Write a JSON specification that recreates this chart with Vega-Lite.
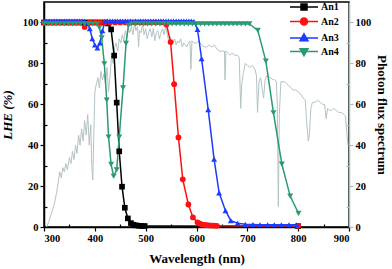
{
  "$schema": "https://vega.github.io/schema/vega-lite/v6.json",
  "width": 305,
  "height": 225,
  "autosize": "none",
  "padding": {"left": 44, "top": 2, "right": 43, "bottom": 42},
  "config": {
    "view": {"stroke": "#000000", "strokeWidth": 1.5},
    "font": "Liberation Serif",
    "axis": {
      "labelFont": "Liberation Serif",
      "labelFontWeight": "bold",
      "labelFontSize": 10.5,
      "labelColor": "#000000",
      "titleFont": "Liberation Serif",
      "titleFontWeight": "bold",
      "titleFontSize": 13,
      "titleColor": "#000000",
      "grid": false,
      "domainWidth": 1.5,
      "tickWidth": 1.2
    }
  },
  "datasets": {
    "keys": [{"k":"An1"},{"k":"An2"},{"k":"An3"},{"k":"An4"}],
    "spec": [
      {"w":305,"f":0},{"w":310,"f":3},{"w":315,"f":7},{"w":320,"f":11},{"w":325,"f":17},{"w":328,"f":22},{"w":331,"f":27},{"w":334,"f":24},{"w":337,"f":29},{"w":340,"f":27},{"w":343,"f":31},{"w":346,"f":28},{"w":350,"f":34},{"w":353,"f":31},{"w":356,"f":37},{"w":359,"f":33},{"w":362,"f":40},{"w":365,"f":36},{"w":368,"f":45},{"w":371,"f":40},{"w":374,"f":48},{"w":377,"f":42},{"w":380,"f":52},{"w":383,"f":45},{"w":386,"f":55},{"w":389,"f":40},{"w":392,"f":50},{"w":394,"f":30},{"w":396,"f":23},{"w":398,"f":45},{"w":400,"f":66},{"w":403,"f":70},{"w":406,"f":73},{"w":409,"f":68},{"w":412,"f":76},{"w":415,"f":72},{"w":418,"f":75},{"w":421,"f":70},{"w":424,"f":78},{"w":427,"f":66},{"w":430,"f":74},{"w":433,"f":84},{"w":436,"f":80},{"w":439,"f":88},{"w":442,"f":90},{"w":445,"f":86},{"w":448,"f":92},{"w":451,"f":90},{"w":454,"f":94},{"w":457,"f":91},{"w":460,"f":96},{"w":463,"f":93},{"w":466,"f":97},{"w":469,"f":95},{"w":472,"f":98},{"w":475,"f":94},{"w":478,"f":99},{"w":481,"f":96},{"w":484,"f":98},{"w":486,"f":88},{"w":488,"f":96},{"w":491,"f":95},{"w":494,"f":99},{"w":497,"f":94},{"w":500,"f":97},{"w":503,"f":92},{"w":506,"f":95},{"w":509,"f":97},{"w":512,"f":93},{"w":515,"f":97},{"w":518,"f":91},{"w":521,"f":95},{"w":524,"f":96},{"w":527,"f":92},{"w":530,"f":95},{"w":533,"f":97},{"w":536,"f":94},{"w":539,"f":98},{"w":542,"f":95},{"w":545,"f":91},{"w":548,"f":93},{"w":551,"f":89},{"w":554,"f":90},{"w":557,"f":92},{"w":560,"f":89},{"w":563,"f":91},{"w":566,"f":90},{"w":569,"f":92},{"w":572,"f":88},{"w":575,"f":90},{"w":578,"f":89},{"w":581,"f":88},{"w":584,"f":90},{"w":587,"f":91},{"w":589,"f":77},{"w":591,"f":91},{"w":595,"f":90},{"w":600,"f":90},{"w":605,"f":91},{"w":610,"f":89},{"w":615,"f":88},{"w":620,"f":88},{"w":625,"f":89},{"w":630,"f":88},{"w":635,"f":89},{"w":640,"f":87},{"w":645,"f":86},{"w":650,"f":86},{"w":655,"f":86},{"w":656,"f":72},{"w":658,"f":86},{"w":662,"f":85},{"w":666,"f":84},{"w":670,"f":85},{"w":675,"f":84},{"w":680,"f":84},{"w":684,"f":83},{"w":687,"f":58},{"w":689,"f":70},{"w":692,"f":75},{"w":696,"f":80},{"w":700,"f":79},{"w":705,"f":78},{"w":710,"f":79},{"w":715,"f":77},{"w":718,"f":74},{"w":720,"f":56},{"w":723,"f":71},{"w":726,"f":73},{"w":729,"f":68},{"w":732,"f":63},{"w":735,"f":72},{"w":738,"f":74},{"w":742,"f":73},{"w":746,"f":73},{"w":750,"f":72},{"w":754,"f":72},{"w":757,"f":71},{"w":759,"f":60},{"w":761,"f":10},{"w":763,"f":55},{"w":766,"f":71},{"w":770,"f":71},{"w":774,"f":71},{"w":778,"f":70},{"w":782,"f":69},{"w":786,"f":68},{"w":790,"f":67},{"w":795,"f":67},{"w":800,"f":66},{"w":805,"f":65},{"w":810,"f":63},{"w":814,"f":62},{"w":817,"f":50},{"w":820,"f":42},{"w":822,"f":45},{"w":825,"f":58},{"w":828,"f":61},{"w":833,"f":61},{"w":838,"f":62},{"w":843,"f":61},{"w":848,"f":60},{"w":852,"f":60},{"w":855,"f":53},{"w":858,"f":58},{"w":862,"f":57},{"w":866,"f":57},{"w":870,"f":58},{"w":875,"f":57},{"w":880,"f":56},{"w":885,"f":56},{"w":890,"f":55},{"w":893,"f":54},{"w":896,"f":45},{"w":898,"f":40}
    ],
    "lhe": [
      {"s":"An1","w":300,"v":100},{"s":"An1","w":310,"v":100},{"s":"An1","w":320,"v":100},{"s":"An1","w":330,"v":100},{"s":"An1","w":340,"v":100},{"s":"An1","w":350,"v":100},{"s":"An1","w":360,"v":100},{"s":"An1","w":370,"v":100},{"s":"An1","w":380,"v":100},{"s":"An1","w":390,"v":100},{"s":"An1","w":400,"v":100},{"s":"An1","w":410,"v":100},{"s":"An1","w":420,"v":100},{"s":"An1","w":426,"v":99.5},{"s":"An1","w":432,"v":96.6},{"s":"An1","w":438,"v":83.8},{"s":"An1","w":443,"v":60.8},{"s":"An1","w":448,"v":37},{"s":"An1","w":453.5,"v":19.7},{"s":"An1","w":459,"v":9.4},{"s":"An1","w":465,"v":4.2},{"s":"An1","w":471,"v":1.9},{"s":"An1","w":476,"v":1.1},{"s":"An1","w":481,"v":0.8},{"s":"An1","w":487,"v":0.6},{"s":"An1","w":492,"v":0.5},{"s":"An1","w":498,"v":0.5},{"s":"An1","w":800,"v":0.4},
      {"s":"An2","w":300,"v":100},{"s":"An2","w":310,"v":100},{"s":"An2","w":320,"v":100},{"s":"An2","w":330,"v":100},{"s":"An2","w":340,"v":100},{"s":"An2","w":350,"v":100},{"s":"An2","w":360,"v":100},{"s":"An2","w":370,"v":100},{"s":"An2","w":380,"v":97.8},{"s":"An2","w":390,"v":100},{"s":"An2","w":400,"v":100},{"s":"An2","w":410,"v":100},{"s":"An2","w":420,"v":100},{"s":"An2","w":430,"v":100},{"s":"An2","w":440,"v":100},{"s":"An2","w":450,"v":100},{"s":"An2","w":460,"v":100},{"s":"An2","w":470,"v":100},{"s":"An2","w":480,"v":100},{"s":"An2","w":490,"v":100},{"s":"An2","w":500,"v":100},{"s":"An2","w":510,"v":100},{"s":"An2","w":520,"v":100},{"s":"An2","w":530,"v":100},{"s":"An2","w":541,"v":99},{"s":"An2","w":549,"v":90.4},{"s":"An2","w":556,"v":69.8},{"s":"An2","w":564.5,"v":43.8},{"s":"An2","w":573,"v":23.3},{"s":"An2","w":584,"v":11},{"s":"An2","w":593,"v":4.7},{"s":"An2","w":602,"v":2.3},{"s":"An2","w":607,"v":1.6},{"s":"An2","w":611,"v":1.2},{"s":"An2","w":616,"v":1.0},{"s":"An2","w":620,"v":0.9},{"s":"An2","w":625,"v":0.8},{"s":"An2","w":630,"v":0.7},{"s":"An2","w":635,"v":0.7},{"s":"An2","w":640,"v":0.6},{"s":"An2","w":800,"v":0.5},
      {"s":"An3","w":300,"v":100.7},{"s":"An3","w":305,"v":100.7},{"s":"An3","w":310,"v":100.7},{"s":"An3","w":315,"v":100.7},{"s":"An3","w":320,"v":100.7},{"s":"An3","w":325,"v":100.7},{"s":"An3","w":330,"v":100.7},{"s":"An3","w":335,"v":100.7},{"s":"An3","w":340,"v":100.7},{"s":"An3","w":345,"v":100.7},{"s":"An3","w":350,"v":100.7},{"s":"An3","w":355,"v":100.7},{"s":"An3","w":360,"v":100.7},{"s":"An3","w":365,"v":100.7},{"s":"An3","w":370,"v":100.7},{"s":"An3","w":375,"v":100.7},{"s":"An3","w":380,"v":100.7},{"s":"An3","w":385,"v":99.5},{"s":"An3","w":390,"v":97},{"s":"An3","w":395,"v":92},{"s":"An3","w":400,"v":89},{"s":"An3","w":405,"v":87.5},{"s":"An3","w":410,"v":90},{"s":"An3","w":415,"v":96},{"s":"An3","w":420,"v":100.5},{"s":"An3","w":425,"v":100.7},{"s":"An3","w":430,"v":100.7},{"s":"An3","w":435,"v":100.7},{"s":"An3","w":440,"v":100.7},{"s":"An3","w":445,"v":100.7},{"s":"An3","w":450,"v":100.7},{"s":"An3","w":455,"v":100.7},{"s":"An3","w":460,"v":100.7},{"s":"An3","w":465,"v":100.7},{"s":"An3","w":470,"v":100.7},{"s":"An3","w":475,"v":100.7},{"s":"An3","w":480,"v":100.7},{"s":"An3","w":485,"v":100.7},{"s":"An3","w":490,"v":100.7},{"s":"An3","w":495,"v":100.7},{"s":"An3","w":500,"v":100.7},{"s":"An3","w":505,"v":100.7},{"s":"An3","w":510,"v":100.7},{"s":"An3","w":515,"v":100.7},{"s":"An3","w":520,"v":100.7},{"s":"An3","w":525,"v":100.7},{"s":"An3","w":530,"v":100.7},{"s":"An3","w":535,"v":100.7},{"s":"An3","w":540,"v":100.7},{"s":"An3","w":545,"v":100.7},{"s":"An3","w":550,"v":100.7},{"s":"An3","w":555,"v":100.7},{"s":"An3","w":560,"v":100.7},{"s":"An3","w":565,"v":100.7},{"s":"An3","w":570,"v":100.7},{"s":"An3","w":575,"v":100.7},{"s":"An3","w":580,"v":100.7},{"s":"An3","w":585,"v":100.7},{"s":"An3","w":590,"v":100.7},{"s":"An3","w":595,"v":100.5},{"s":"An3","w":602,"v":96.6},{"s":"An3","w":610,"v":82.3},{"s":"An3","w":623,"v":57.4},{"s":"An3","w":634.6,"v":33.2},{"s":"An3","w":644.5,"v":16.7},{"s":"An3","w":657,"v":8},{"s":"An3","w":667.5,"v":3.1},{"s":"An3","w":681,"v":1.8},{"s":"An3","w":696,"v":1.3},{"s":"An3","w":711,"v":1.2},{"s":"An3","w":725,"v":1.1},{"s":"An3","w":740,"v":1.1},{"s":"An3","w":753,"v":1.1},{"s":"An3","w":767,"v":1.1},{"s":"An3","w":782,"v":1.1},{"s":"An3","w":797,"v":1.1},
      {"s":"An4","w":300,"v":99.3},{"s":"An4","w":308,"v":99.3},{"s":"An4","w":316,"v":99.3},{"s":"An4","w":324,"v":99.3},{"s":"An4","w":332,"v":99.3},{"s":"An4","w":340,"v":99.3},{"s":"An4","w":348,"v":99.3},{"s":"An4","w":356,"v":99.3},{"s":"An4","w":364,"v":99.3},{"s":"An4","w":372,"v":99.3},{"s":"An4","w":380,"v":99.3},{"s":"An4","w":388,"v":99.3},{"s":"An4","w":396,"v":99.3},{"s":"An4","w":404,"v":99.3},{"s":"An4","w":409,"v":97.5},{"s":"An4","w":413.5,"v":92.5},{"s":"An4","w":418.7,"v":79.8},{"s":"An4","w":423.4,"v":62},{"s":"An4","w":427,"v":44},{"s":"An4","w":432,"v":30.6},{"s":"An4","w":437,"v":24.8},{"s":"An4","w":443,"v":28},{"s":"An4","w":448,"v":44},{"s":"An4","w":455.5,"v":68},{"s":"An4","w":461.4,"v":89.8},{"s":"An4","w":466,"v":98.5},{"s":"An4","w":472,"v":99.3},{"s":"An4","w":480,"v":99.3},{"s":"An4","w":488,"v":99.3},{"s":"An4","w":496,"v":99.3},{"s":"An4","w":504,"v":99.3},{"s":"An4","w":512,"v":99.3},{"s":"An4","w":520,"v":99.3},{"s":"An4","w":528,"v":99.3},{"s":"An4","w":536,"v":99.3},{"s":"An4","w":544,"v":99.3},{"s":"An4","w":552,"v":99.3},{"s":"An4","w":560,"v":99.3},{"s":"An4","w":568,"v":99.3},{"s":"An4","w":576,"v":99.3},{"s":"An4","w":584,"v":99.3},{"s":"An4","w":592,"v":99.3},{"s":"An4","w":600,"v":99.3},{"s":"An4","w":608,"v":99.3},{"s":"An4","w":616,"v":99.3},{"s":"An4","w":624,"v":99.3},{"s":"An4","w":632,"v":99.3},{"s":"An4","w":640,"v":99.3},{"s":"An4","w":648,"v":99.3},{"s":"An4","w":656,"v":99.3},{"s":"An4","w":664,"v":99.3},{"s":"An4","w":672,"v":99.3},{"s":"An4","w":680,"v":99.3},{"s":"An4","w":688,"v":99.3},{"s":"An4","w":696,"v":99.3},{"s":"An4","w":704,"v":99.3},{"s":"An4","w":720.6,"v":96.1},{"s":"An4","w":736.4,"v":81.1},{"s":"An4","w":751.4,"v":55.8},{"s":"An4","w":767.9,"v":30.7},{"s":"An4","w":784.3,"v":15.1},{"s":"An4","w":800.6,"v":6.7}
    ]
  },
  "encoding": {
    "x": {
      "field": "w", "type": "quantitative",
      "scale": {"domain": [300, 900], "nice": false, "zero": false},
      "axis": {
        "title": "Wavelength (nm)",
        "values": [300,350,400,450,500,550,600,650,700,750,800,850,900],
        "labelExpr": "datum.value % 100 == 0 ? datum.label : ''",
        "tickSize": {"condition": {"test": "datum.value % 100 == 0", "value": 4}, "value": -3},
        "labelPadding": 2,
        "titlePadding": 9,
        "domainColor": "#000000",
        "tickColor": "#000000"
      }
    }
  },
  "layer": [
    {
      "data": {"name": "spec"},
      "mark": {"type": "line", "color": "#b4c3c7", "strokeWidth": 1, "interpolate": "linear"},
      "encoding": {
        "y": {
          "field": "f", "type": "quantitative",
          "scale": {"domain": [0, 110], "nice": false},
          "axis": {
            "orient": "right",
            "title": "Photon flux spectrum",
            "values": [0,10,20,30,40,50,60,70,80,90,100],
            "labelExpr": "datum.value % 20 == 0 ? datum.label : ''",
            "tickSize": {"condition": {"test": "datum.value % 20 == 0", "value": 4}, "value": -3},
            "domainColor": "#a9bec3",
            "tickColor": "#a9bec3",
            "labelPadding": 2,
            "titlePadding": 4
          }
        }
      }
    },
    {
      "data": {"name": "lhe"},
      "encoding": {
        "y": {
          "field": "v", "type": "quantitative",
          "scale": {"domain": [0, 110], "nice": false},
          "axis": {
            "orient": "left",
            "title": "LHE (%)",
            "titleFontStyle": "italic",
            "values": [0,10,20,30,40,50,60,70,80,90,100],
            "labelExpr": "datum.value % 20 == 0 ? datum.label : ''",
            "tickSize": {"condition": {"test": "datum.value % 20 == 0", "value": 4}, "value": -3},
            "domainColor": "#000000",
            "tickColor": "#000000",
            "labelPadding": 2,
            "titlePadding": 8
          }
        },
        "color": {
          "field": "s", "type": "nominal",
          "scale": {"domain": ["An1","An2","An3","An4"], "range": ["#000000","#ff1010","#1a3cff","#2a9a70"]},
          "legend": null
        }
      },
      "layer": [
        {"mark": {"type": "line", "strokeWidth": 1.5}, "encoding": {"detail": {"field": "s"}}},
        {
          "mark": {"type": "point", "filled": true, "opacity": 1},
          "encoding": {
            "shape": {
              "field": "s", "type": "nominal",
              "scale": {"domain": ["An1","An2","An3","An4"], "range": ["square","circle","triangle-up","triangle-down"]},
              "legend": null
            },
            "size": {
              "field": "s", "type": "nominal",
              "scale": {"domain": ["An1","An2","An3","An4"], "range": [32, 36, 42, 42]},
              "legend": null
            }
          }
        }
      ]
    },
    {
      "data": {"name": "keys"},
      "mark": {"type": "point", "filled": true, "opacity": 0},
      "encoding": {
        "shape": {
          "field": "k", "type": "nominal",
          "scale": {"domain": ["An1","An2","An3","An4"], "range": ["M-2.8,0H2.8M-0.6,-0.6H0.6V0.6H-0.6Z", "M-2.8,0H2.8M0.7,0A0.7,0.7,0,1,1,-0.7,0A0.7,0.7,0,1,1,0.7,0Z", "M-2.8,0H2.8M0,-0.85L0.8,0.55H-0.8Z", "M-2.8,0H2.8M0,0.85L0.8,-0.55H-0.8Z"]},
          "legend": {
            "title": null,
            "orient": "none",
            "legendX": 254,
            "legendY": -1,
            "padding": 0,
            "labelFont": "Liberation Serif",
            "labelFontWeight": "bold",
            "labelFontSize": 10,
            "labelColor": "#000000",
            "labelOffset": 11,
            "rowPadding": 1.5,
            "symbolSize": 100,
            "symbolStrokeWidth": 1.5,
            "symbolOpacity": 1,
            "symbolStrokeColor": {"expr": "datum.value === 'An1' ? '#000000' : datum.value === 'An2' ? '#ff1010' : datum.value === 'An3' ? '#1a3cff' : '#2a9a70'"},
            "symbolFillColor": {"expr": "datum.value === 'An1' ? '#000000' : datum.value === 'An2' ? '#ff1010' : datum.value === 'An3' ? '#1a3cff' : '#2a9a70'"}
          }
        },
        "fill": {
          "field": "k", "type": "nominal",
          "scale": {"domain": ["An1","An2","An3","An4"], "range": ["#000000","#ff1010","#1a3cff","#2a9a70"]},
          "legend": {"title": null, "orient": "none", "legendX": 254, "legendY": -1}
        },
        "stroke": {
          "field": "k", "type": "nominal",
          "scale": {"domain": ["An1","An2","An3","An4"], "range": ["#000000","#ff1010","#1a3cff","#2a9a70"]},
          "legend": {"title": null, "orient": "none", "legendX": 254, "legendY": -1}
        }
      }
    }
  ],
  "resolve": {"scale": {"y": "independent", "shape": "independent", "size": "independent"}}
}
